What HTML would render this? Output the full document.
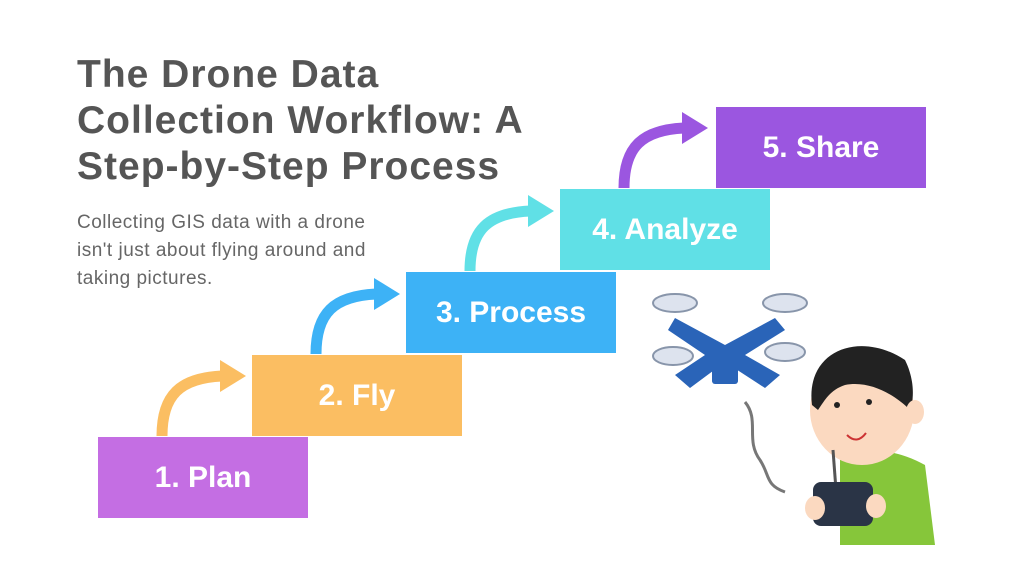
<!DOCTYPE html>
<html><head><style>
body{margin:0;width:1024px;height:578px;background:#fff;position:relative;overflow:hidden;font-family:"Liberation Sans",sans-serif}
.t{position:absolute;left:77px;top:52px;font-size:39px;font-weight:bold;color:#555;line-height:46px;letter-spacing:1px}
.s{position:absolute;left:77px;top:209px;font-size:19px;color:#666;line-height:28px;letter-spacing:0.5px}
.b{position:absolute;width:210px;height:81px;color:#fff;font-weight:bold;font-size:30px;display:flex;align-items:center;justify-content:center}
</style></head><body>
<div class="t">The Drone Data<br>Collection Workflow: A<br>Step-by-Step Process</div>
<div class="s">Collecting GIS data with a drone<br>isn't just about flying around and<br>taking pictures.</div>
<div class="b" style="left:98px;top:437px;background:#c46ee3">1. Plan</div>
<div class="b" style="left:252px;top:355px;background:#fbbe62">2. Fly</div>
<div class="b" style="left:406px;top:272px;background:#3db2f6">3. Process</div>
<div class="b" style="left:560px;top:189px;background:#60e0e6">4. Analyze</div>
<div class="b" style="left:716px;top:107px;background:#9b56e0">5. Share</div>
<svg width="1024" height="578" style="position:absolute;left:0;top:0">
<g fill="none" stroke-width="11" stroke-linecap="butt">
<path d="M162 436 C162 395 180 378 222 376" stroke="#fbbe62"/>
<path d="M316 354 C316 313 334 296 376 294" stroke="#3db2f6"/>
<path d="M470 271 C470 230 488 213 530 211" stroke="#60e0e6"/>
<path d="M624 188 C624 147 642 130 684 128" stroke="#9b56e0"/>
</g>
<polygon points="220,360 246,376 220,392" fill="#fbbe62"/>
<polygon points="374,278 400,294 374,310" fill="#3db2f6"/>
<polygon points="528,195 554,211 528,227" fill="#60e0e6"/>
<polygon points="682,112 708,128 682,144" fill="#9b56e0"/>
<g>
<path d="M675 318 L725 345 L775 318 L785 330 L745 355 L780 375 L765 388 L725 362 L690 388 L675 375 L705 355 L668 330Z" fill="#2a64b8"/>
<rect x="712" y="362" width="26" height="22" rx="3" fill="#2a64b8"/>
<ellipse cx="675" cy="303" rx="22" ry="9" fill="#dde3ee" stroke="#8895aa" stroke-width="2"/>
<ellipse cx="785" cy="303" rx="22" ry="9" fill="#dde3ee" stroke="#8895aa" stroke-width="2"/>
<ellipse cx="673" cy="356" rx="20" ry="9" fill="#dde3ee" stroke="#8895aa" stroke-width="2"/>
<ellipse cx="785" cy="352" rx="20" ry="9" fill="#dde3ee" stroke="#8895aa" stroke-width="2"/>
<path d="M745 402 C760 420 745 440 760 460 C770 475 765 485 785 492" fill="none" stroke="#777" stroke-width="3"/>
<path d="M840 460 Q880 440 925 465 L935 545 L840 545Z" fill="#86c63a"/>
<ellipse cx="862" cy="410" rx="52" ry="55" fill="#fbd9c0"/>
<path d="M812 405 C805 350 860 330 905 360 C915 380 914 400 910 410 C895 395 870 380 845 385 C830 390 825 400 818 410Z" fill="#222"/>
<ellipse cx="915" cy="412" rx="9" ry="12" fill="#fbd9c0"/>
<circle cx="837" cy="405" r="3" fill="#222"/><circle cx="869" cy="402" r="3" fill="#222"/>
<path d="M847 435 Q857 445 866 433" fill="none" stroke="#c33" stroke-width="2"/>
<line x1="836" y1="490" x2="833" y2="450" stroke="#555" stroke-width="3"/>
<rect x="813" y="482" width="60" height="44" rx="8" fill="#2a3446"/>
<ellipse cx="815" cy="508" rx="10" ry="12" fill="#fbd9c0"/>
<ellipse cx="876" cy="506" rx="10" ry="12" fill="#fbd9c0"/>
</g>
</svg>
</body></html>
